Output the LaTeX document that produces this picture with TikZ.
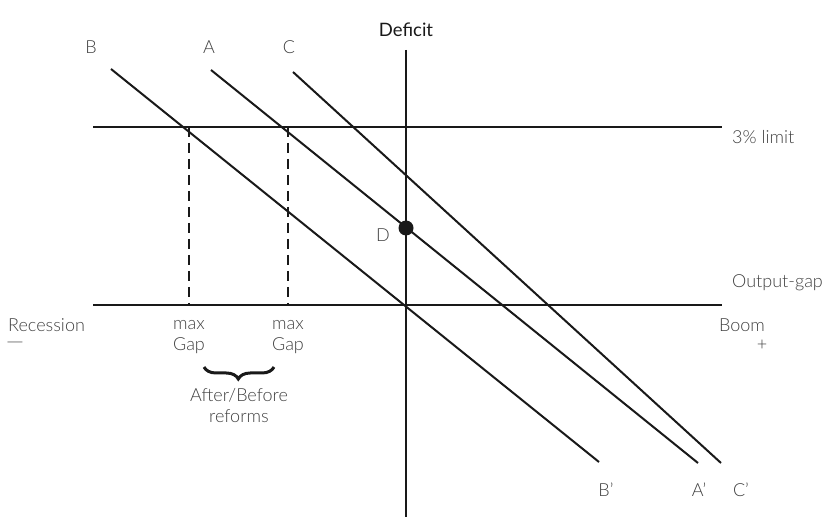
\documentclass[tikz,border=0pt]{standalone}
\usepackage{fontspec}
\usepackage{graphicx}
\setmainfont{Lato}[UprightFont={* Light}]
\newfontfamily\regfont{Lato}
\usetikzlibrary{decorations.pathreplacing}
\tikzset{
  ln/.style={line width=2pt, black!90},
  dsh/.style={line width=2pt, black!90, dash pattern=on 10pt off 6pt},
  lbl/.style={inner sep=0pt, font=\fontsize{18}{21}\selectfont, text=black!75},
}
\begin{document}
\begin{tikzpicture}[x=1pt,y=-1pt]
\useasboundingbox (0,0) rectangle (830,518);
% axes
\coordinate (vtop) at (406,50);
\coordinate (vbot) at (406,517);
\coordinate (lim1) at (93,127);
\coordinate (lim2) at (722,127);
\coordinate (gap1) at (93,305);
\coordinate (gap2) at (722,305);
\draw[ln] (vtop) -- (vbot);
\draw[ln] (lim1) -- (lim2);
\draw[ln] (gap1) -- (gap2);
% diagonal lines
\coordinate (b1) at (111,69);
\coordinate (b2) at (599,462);
\coordinate (a1) at (211,70);
\coordinate (a2) at (698,463);
\coordinate (c1) at (293,72);
\coordinate (c2) at (721,463);
\draw[ln] (b1) -- (b2);
\draw[ln] (a1) -- (a2);
\draw[ln] (c1) -- (c2);
% dashed
\coordinate (d1t) at (189,127);
\coordinate (d1b) at (189,305);
\coordinate (d2t) at (288,127);
\coordinate (d2b) at (288,305);
\draw[dsh] (d1t) -- (d1b);
\draw[dsh] (d2t) -- (d2b);
% D point
\fill[black!90] (406,228) circle (7.5pt);
\node[lbl] (D) at (383,235) {D};
% labels
\node[inner sep=0pt, font=\regfont\fontsize{18.5}{21}\selectfont, text=black!90] (deficit) at (406,30) {Deficit};
\node[lbl] (B) at (91,47) {B};
\node[lbl] (A) at (209,47) {A};
\node[lbl] (C) at (289,47) {C};
\node[lbl, anchor=west] (limit) at (732,137) {3\% limit};
\node[lbl, anchor=west] (outgap) at (732,283) {Output-gap};
\node[lbl, anchor=west] (rec) at (8,325) {Recession};
\node[lbl] (minus) at (15,345) {\scalebox{2}[1]{−}};
\node[lbl] (mg1a) at (189,325) {max};
\node[lbl] (mg1b) at (189,346) {Gap};
\node[lbl] (mg2a) at (288,325) {max};
\node[lbl] (mg2b) at (288,346) {Gap};
\node[lbl] (boom) at (742,325) {Boom};
\node[lbl] (plus) at (762,345) {+};
\node[lbl] (after) at (239,395) {After/Before};
\node[lbl] (reforms) at (239,416) {reforms};
\node[lbl] (Bp) at (606,490) {B'};
\node[lbl] (Ap) at (699,490) {A'};
\node[lbl] (Cp) at (741,490) {C'};
% brace
\coordinate (br1) at (204,367);
\coordinate (br2) at (274,367);
\draw[line width=3pt, black!90, decorate, decoration={brace, mirror, amplitude=12pt, aspect=0.49}] (br1) -- (br2);
\end{tikzpicture}
\end{document}
